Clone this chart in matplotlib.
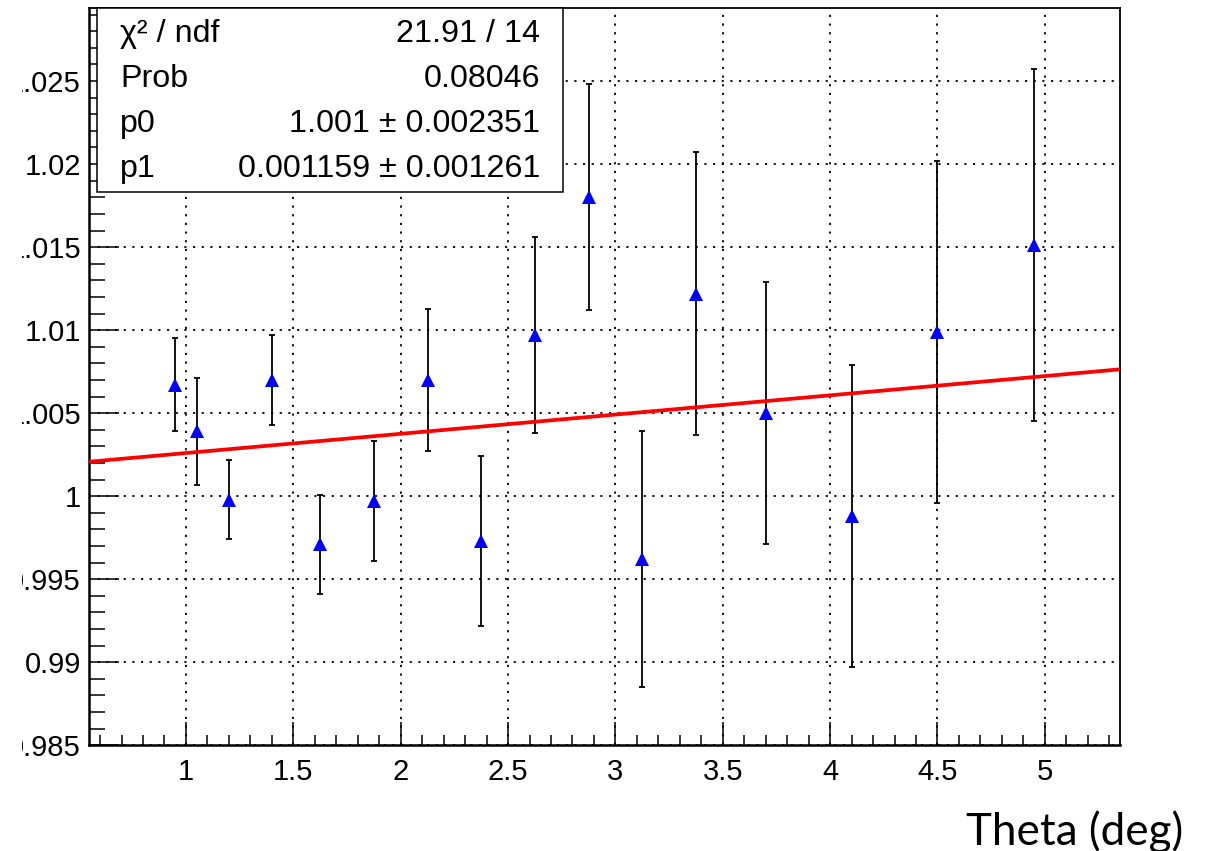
import numpy as np
import matplotlib.pyplot as plt
from matplotlib.patches import Rectangle
from matplotlib.ticker import MultipleLocator

plt.rcParams['font.family'] = ['Liberation Sans', 'DejaVu Sans']

# ratio vs. theta, one point per bin
theta = [0.95, 1.05, 1.2, 1.4, 1.625, 1.875, 2.125, 2.375,
         2.625, 2.875, 3.125, 3.375, 3.7, 4.1, 4.5, 4.95]
ratio = [1.0067, 1.0039, 0.9998, 1.0070, 0.9971, 0.9997, 1.0070, 0.9973,
         1.0097, 1.0180, 0.9962, 1.0122, 1.0050, 0.9988, 1.0099, 1.0151]
ratio_err = [0.0028, 0.0032, 0.0024, 0.0027, 0.0030, 0.0036, 0.0043, 0.0051,
             0.0059, 0.0068, 0.0077, 0.0085, 0.0079, 0.0091, 0.0103, 0.0106]

# linear fit pol1 results
chi2, ndf = 21.91, 14
prob = 0.08046
p0, p0_err = 1.00144, 0.002351
p1, p1_err = 0.001159, 0.001261

xticks = [1, 1.5, 2, 2.5, 3, 3.5, 4, 4.5, 5]
yticks = [0.985, 0.99, 0.995, 1.0, 1.005, 1.01, 1.015, 1.02, 1.025]
xrange_ = (0.55, 5.35)
yrange_ = (0.985, 1.0294)

fig = plt.figure(figsize=(12.12, 8.51), dpi=100)
ax = fig.add_axes([0.0737, 0.1242, 0.9241 - 0.0737, 0.9906 - 0.1242])

ax.errorbar(theta, ratio, yerr=ratio_err, fmt='none', ecolor='black',
            elinewidth=1.3, capsize=2, capthick=1.3, zorder=3)
ax.plot(theta, ratio, linestyle='none', marker='^', markersize=10,
        color='blue', markeredgewidth=0, zorder=4)

# fitted line over the full axis range
xf = np.array(xrange_)
ax.plot(xf, p0 + p1 * xf, color='red', linewidth=2.7, zorder=3.5)

ax.set_xlim(*xrange_)
ax.set_ylim(*yrange_)
ax.set_xticks(xticks)
ax.set_xticklabels(['%g' % t for t in xticks])
ax.set_yticks(yticks)
ax.set_yticklabels(['%g' % t for t in yticks])
ax.xaxis.set_minor_locator(MultipleLocator(0.1))
ax.yaxis.set_minor_locator(MultipleLocator(0.001))

ax.grid(True, which='major', color='black', linestyle=(0, (1.2, 3.6)),
        linewidth=1.3)
ax.set_axisbelow(True)

ax.tick_params(axis='both', which='both', direction='in', width=1.1,
               labelsize=21, top=False, right=False)
ax.tick_params(axis='y', which='major', length=21.5, pad=6)
ax.tick_params(axis='y', which='minor', length=11.3)
ax.tick_params(axis='x', which='major', length=16.5, pad=9)
ax.tick_params(axis='x', which='minor', length=7.2)
for side in ['left', 'bottom']:
    ax.spines[side].set_linewidth(1.8)
for side in ['top', 'right']:
    ax.spines[side].set_linewidth(1.3)

# stats box in the top left corner
bx0, bx1 = 97 / 1212, 563 / 1212
by0, by1 = 1 - 192 / 851, 1 - 8 / 851
fig.add_artist(Rectangle((bx0, by0), bx1 - bx0, by1 - by0,
                         transform=fig.transFigure, facecolor='white',
                         edgecolor='black', linewidth=1.1, zorder=5))
rows = [
    ('χ² / ndf', '%.2f / %d' % (chi2, ndf)),
    ('Prob', '%.4g' % prob),
    ('p0', '%.4g ± %.4g' % (p0, p0_err)),
    ('p1', '%.4g ± %.4g' % (p1, p1_err)),
]
baselines = [42, 87, 132, 177]
for (name, val), yb in zip(rows, baselines):
    fig.text(120 / 1212, 1 - yb / 851, name, ha='left', va='baseline',
             fontsize=23.2, zorder=6)
    fig.text(540 / 1212, 1 - yb / 851, val, ha='right', va='baseline',
             fontsize=23.2, zorder=6)

# left strip is blank
fig.add_artist(Rectangle((0, 0), 22 / 1212, 1, transform=fig.transFigure,
                         facecolor='white', edgecolor='none', zorder=10))

fig.text(1183 / 1212, 1 - 845 / 851, 'Theta (deg)', ha='right',
         va='baseline', fontsize=31.7, family=['Lato', 'DejaVu Sans'])

fig.savefig('out.png', dpi=100)
